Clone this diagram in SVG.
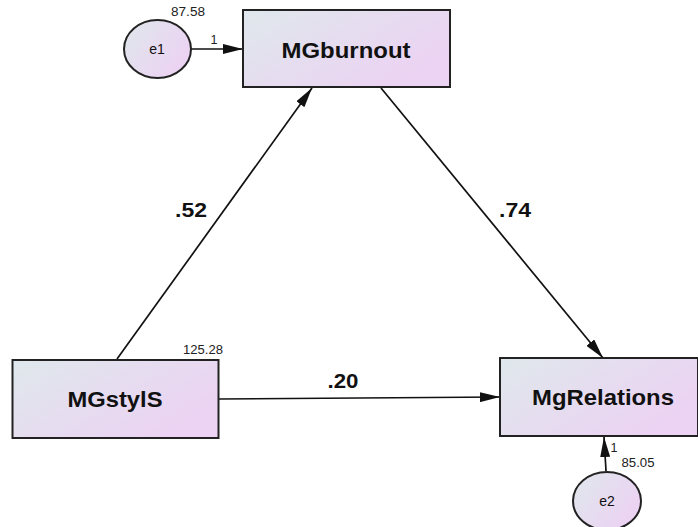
<svg xmlns="http://www.w3.org/2000/svg" width="698" height="527" viewBox="0 0 698 527">
<style>
.box{stroke:#222;stroke-width:2;fill:url(#g)}
.ell{stroke:#222;stroke-width:2;fill:url(#g)}
.name{font-family:"Liberation Sans",Arial,sans-serif;font-weight:bold;font-size:22px;fill:#111;text-anchor:middle}
.ename{font-family:"Liberation Sans",Arial,sans-serif;font-size:14px;fill:#111;text-anchor:middle}
.coef{font-family:"Liberation Sans",Arial,sans-serif;font-weight:bold;font-size:20px;fill:#111;text-anchor:middle}
.small{font-family:"Liberation Sans",Arial,sans-serif;font-size:12.5px;fill:#222;text-anchor:middle}
.con{stroke:#111;stroke-width:1.7;fill:none;marker-end:url(#ah)}
</style>
<defs>
<linearGradient id="g" x1="0" y1="0" x2="1" y2="0.6">
<stop offset="0" stop-color="#dfe8ec"/>
<stop offset="1" stop-color="#ecd2f3"/>
</linearGradient>
<marker id="ah" viewBox="0 0 20 10" refX="20" refY="5" markerWidth="20" markerHeight="10" markerUnits="userSpaceOnUse" orient="auto">
<path d="M0,0 L20,5 L0,10 z" fill="#111"/>
</marker>
</defs>
<rect width="698" height="527" fill="#fff"/>
<g id="connectors">
<line class="con" x1="191" y1="49" x2="243" y2="49" stroke-width="2.4"/>
<line class="con" x1="117" y1="359" x2="312" y2="88"/>
<line class="con" x1="381" y1="88" x2="603" y2="358"/>
<line class="con" x1="219" y1="399" x2="500" y2="397"/>
<line class="con" x1="606" y1="471" x2="604" y2="437" stroke-width="2.2"/>
<text class="small" x="214" y="44">1</text>
<text class="coef" x="191" y="217" textLength="32" lengthAdjust="spacingAndGlyphs">.52</text>
<text class="coef" x="515" y="217" textLength="32" lengthAdjust="spacingAndGlyphs">.74</text>
<text class="coef" x="343" y="388" textLength="31" lengthAdjust="spacingAndGlyphs">.20</text>
<text class="small" x="614" y="452">1</text>
</g>
<g id="e1">
<ellipse class="ell" cx="157.5" cy="49" rx="33.5" ry="29"/>
<text class="ename" x="157" y="54">e1</text>
<text class="small" x="188" y="16" textLength="34" lengthAdjust="spacingAndGlyphs">87.58</text>
</g>
<g id="MGburnout">
<rect class="box" x="243" y="10" width="207" height="77"/>
<text class="name" x="346" y="58" textLength="129" lengthAdjust="spacingAndGlyphs">MGburnout</text>
</g>
<g id="MGstylS">
<rect class="box" x="12.5" y="360" width="206" height="78"/>
<text class="name" x="115" y="407" textLength="95" lengthAdjust="spacingAndGlyphs">MGstylS</text>
<text class="small" x="203" y="354" textLength="40" lengthAdjust="spacingAndGlyphs">125.28</text>
</g>
<g id="MgRelations">
<rect class="box" x="500" y="358" width="198" height="78"/>
<text class="name" x="603" y="405" textLength="142" lengthAdjust="spacingAndGlyphs">MgRelations</text>
</g>
<g id="e2">
<ellipse class="ell" cx="607" cy="501" rx="34" ry="29"/>
<text class="ename" x="607" y="506">e2</text>
<text class="small" x="638" y="467" textLength="33" lengthAdjust="spacingAndGlyphs">85.05</text>
</g>
</svg>
